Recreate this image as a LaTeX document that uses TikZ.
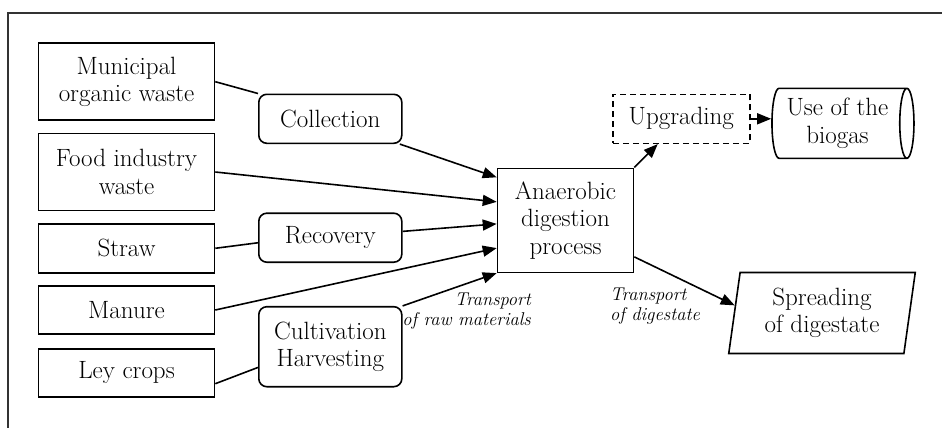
\documentclass[tikz,border=0pt]{standalone}
\usetikzlibrary{shapes.geometric,arrows.meta}
\begin{document}
\begin{tikzpicture}[x=1pt, y=-1pt, line width=1.6pt,
  font=\fontsize{25}{27.5}\selectfont,
  src/.style={rectangle, draw, minimum width=176pt, align=center, inner sep=2pt},
  stage/.style={rectangle, draw, rounded corners=8pt, minimum width=143pt, align=center},
  tag/.style={font=\fontsize{18.5}{20.5}\selectfont\itshape},
  arr/.style={-{Triangle[length=14pt,width=11pt]}}]
  \useasboundingbox (0,0) rectangle (942,428);
  \draw[draw=black!80] (8,428) |- (942,13);

  \node (muni) [src, minimum height=77pt] at (126.5, 81.7) {Municipal\\organic waste};
  \node (food) [src, minimum height=77pt] at (126.5, 172) {Food industry\\waste};
  \node (straw) [src, minimum height=49pt] at (126.5, 248.3) {Straw};
  \node (manure) [src, minimum height=48pt] at (126.5, 310) {Manure};
  \node (ley) [src, minimum height=48pt] at (126.5, 372.8) {Ley crops};

  \node (coll) [stage, minimum height=49pt] at (330.3, 118.8) {Collection};
  \node (recov) [stage, minimum height=49pt] at (330.3, 237.7) {Recovery};
  \node (cult) [stage, minimum height=80pt] at (330.3, 346.7) {Cultivation\\Harvesting};

  \node (ad) [rectangle, draw, minimum width=136pt, minimum height=104pt, align=center] at (565.5, 220.3) {Anaerobic\\digestion\\process};
  \node (upg) [rectangle, draw, dash pattern=on 6pt off 4pt, minimum width=137pt, minimum height=49pt] at (681.3, 118.8) {Upgrading};
  \node (use) [cylinder, draw, shape aspect=0.25, inner xsep=1pt, minimum width=70pt, minimum height=142pt, align=center] at (837.5, 123.3) {Use of the\\biogas};
  \node (spread) [trapezium, draw, trapezium left angle=82, trapezium right angle=98, inner xsep=0pt, minimum width=170pt, minimum height=81pt, align=center] at (822, 313) {Spreading\\of digestate};

  \node (traw) [tag, align=right, anchor=east] at (535, 311) {Transport\\of raw materials};
  \node (tdig) [tag, align=left] at (655, 306) {Transport\\of digestate};

  \draw (muni.east) -- (coll.north west);
  \draw (straw.east) -- (recov.184);
  \draw (ley.-7) -- (cult.196);
  \draw[arr] (coll.-20) -- (ad.148);
  \draw[arr] (food.east) -- (ad.165);
  \draw[arr] (recov.5) -- (ad.183);
  \draw[arr] (manure.east) -- (ad.202);
  \draw[arr] (cult.north east) -- (ad.south west);
  \draw[arr] (ad.north east) -- (upg.-133);
  \draw[arr] (upg.east) -- (upg.east -| use.west);
  \draw[arr] (ad.-28) -- (spread.175);
\end{tikzpicture}
\end{document}
